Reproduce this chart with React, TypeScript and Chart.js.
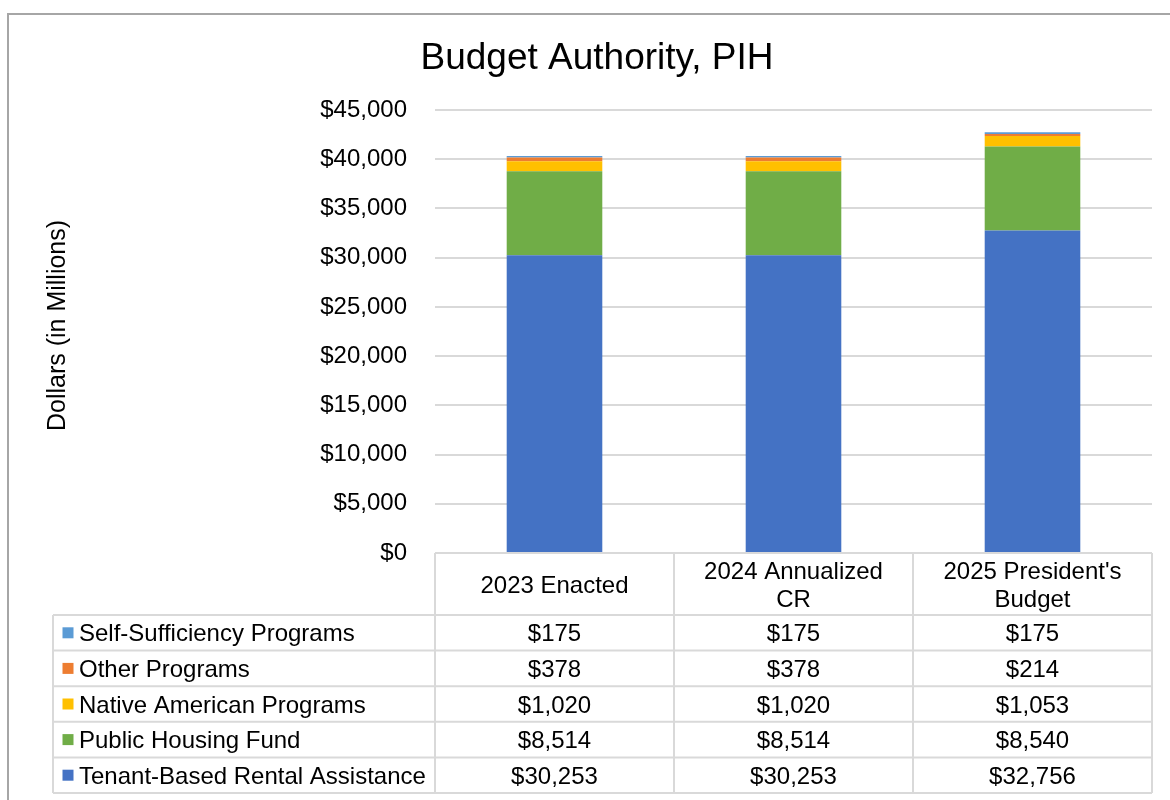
import React, { useEffect, useRef } from "react";
import { Chart, registerables } from "chart.js";

Chart.register(...registerables);

// ---- Data ----
const chartTitle = "Budget Authority, PIH";
const yAxisTitle = "Dollars (in Millions)";
const categoryLines: string[][] = [
  ["2023 Enacted"],
  ["2024 Annualized", "CR"],
  ["2025 President's", "Budget"],
];
const categories = categoryLines.map((l) => l.join(" "));

const tenantBasedRental = [30253, 30253, 32756];
const publicHousingFund = [8514, 8514, 8540];
const nativeAmerican = [1020, 1020, 1053];
const otherPrograms = [378, 378, 214];
const selfSufficiency = [175, 175, 175];

const yMin = 0;
const yMax = 45000;
const yStep = 5000;

const seriesNames = [
  "Tenant-Based Rental Assistance",
  "Public Housing Fund",
  "Native American Programs",
  "Other Programs",
  "Self-Sufficiency Programs",
];
const seriesValues = [
  tenantBasedRental,
  publicHousingFund,
  nativeAmerican,
  otherPrograms,
  selfSufficiency,
];
const seriesColors = ["#4472C4", "#70AD47", "#FFC000", "#ED7D31", "#5B9BD5"];

const FONT = "'Liberation Sans', Arial, Helvetica, sans-serif";
const fmt = (v: number) => "$" + v.toLocaleString("en-US");

const tablePlugin = {
  id: "pihTable",
  afterDraw(chart: any) {
    const ctx: CanvasRenderingContext2D = chart.ctx;
    const area = chart.chartArea;
    const xs = chart.scales.x;
    ctx.save();

    // outer chart border
    ctx.strokeStyle = "#a6a6a6";
    ctx.lineWidth = 2;
    ctx.strokeRect(8, 14, 1300, 1000);

    // title
    ctx.fillStyle = "#000";
    ctx.font = `37px ${FONT}`;
    ctx.textAlign = "center";
    ctx.textBaseline = "alphabetic";
    ctx.fillText(chartTitle, 597, 69.3);

    // y axis title
    ctx.save();
    ctx.translate(58, 325.5);
    ctx.rotate(-Math.PI / 2);
    ctx.font = `25px ${FONT}`;
    ctx.textAlign = "center";
    ctx.textBaseline = "middle";
    ctx.fillText(yAxisTitle, 0, 0);
    ctx.restore();

    // data table
    const n = categories.length;
    const catW = (area.right - area.left) / n;
    const top = area.bottom;
    const headerBottom = top + 62;
    const rowH = 35.6;
    const nRows = seriesNames.length;
    const tableBottom = headerBottom + rowH * nRows;
    const legendLeft = 53;

    ctx.strokeStyle = "#d9d9d9";
    ctx.lineWidth = 2;
    ctx.beginPath();
    ctx.moveTo(area.left, top);
    ctx.lineTo(area.right, top);
    for (let r = 0; r <= nRows; r++) {
      const y = headerBottom + r * rowH;
      ctx.moveTo(legendLeft, y);
      ctx.lineTo(area.right, y);
    }
    ctx.moveTo(legendLeft, headerBottom);
    ctx.lineTo(legendLeft, tableBottom);
    for (let i = 0; i <= n; i++) {
      const x = area.left + i * catW;
      ctx.moveTo(x, top);
      ctx.lineTo(x, tableBottom);
    }
    ctx.stroke();

    ctx.fillStyle = "#000";
    ctx.font = `24px ${FONT}`;
    ctx.textAlign = "center";
    ctx.textBaseline = "alphabetic";
    const capHalf = 0.716 * 24 / 2;
    const headerMid = (top + headerBottom) / 2;
    const lineH = 28;
    for (let i = 0; i < n; i++) {
      const cx = xs.getPixelForValue(i);
      const lines = categoryLines[i];
      const startY = headerMid - ((lines.length - 1) * lineH) / 2;
      lines.forEach((ln, k) => {
        ctx.fillText(ln, cx, startY + k * lineH + capHalf);
      });
    }

    for (let r = 0; r < nRows; r++) {
      const s = nRows - 1 - r;
      const cy = headerBottom + r * rowH + rowH / 2;
      ctx.fillStyle = seriesColors[s];
      ctx.fillRect(62.5, cy - 5.5, 11, 11);
      ctx.fillStyle = "#000";
      ctx.textAlign = "left";
      ctx.fillText(seriesNames[s], 79, cy + capHalf);
      ctx.textAlign = "center";
      for (let i = 0; i < n; i++) {
        const cx = xs.getPixelForValue(i);
        ctx.fillText(fmt(seriesValues[s][i]), cx, cy + capHalf);
      }
    }
    ctx.restore();
  },
};

export default function App() {
  const canvasRef = useRef<HTMLCanvasElement | null>(null);

  useEffect(() => {
    const canvas = canvasRef.current;
    if (!canvas) return;
    Chart.defaults.font.family = FONT;
    const chart = new Chart(canvas, {
      type: "bar",
      data: {
        labels: categories,
        datasets: seriesNames.map((name, i) => ({
          label: name,
          data: seriesValues[i],
          backgroundColor: seriesColors[i],
          borderWidth: 0,
          barPercentage: 0.4,
          categoryPercentage: 1.0,
        })),
      },
      options: {
        responsive: false,
        maintainAspectRatio: false,
        animation: false,
        devicePixelRatio: 1,
        layout: { padding: { top: 110, bottom: 247, left: 40, right: 18 } },
        plugins: {
          legend: { display: false },
          title: { display: false },
          tooltip: { enabled: false },
        },
        scales: {
          x: { stacked: true, display: false },
          y: {
            stacked: true,
            min: yMin,
            max: yMax,
            afterFit: (scale: any) => {
              scale.width = 395;
            },
            ticks: {
              stepSize: yStep,
              padding: 28,
              color: "#000",
              font: { size: 24, family: FONT },
              callback: (v: any) => fmt(Number(v)),
            },
            grid: { color: "#d9d9d9", lineWidth: 2, drawTicks: false },
            border: { display: false },
          },
        },
      },
      plugins: [tablePlugin],
    });
    return () => chart.destroy();
  }, []);

  return (
    <div
      style={{
        position: "fixed",
        left: 0,
        top: 0,
        width: 1170,
        height: 800,
        background: "#fff",
      }}
    >
      <canvas
        ref={canvasRef}
        width={1170}
        height={800}
        style={{ display: "block", width: 1170, height: 800 }}
      />
    </div>
  );
}
